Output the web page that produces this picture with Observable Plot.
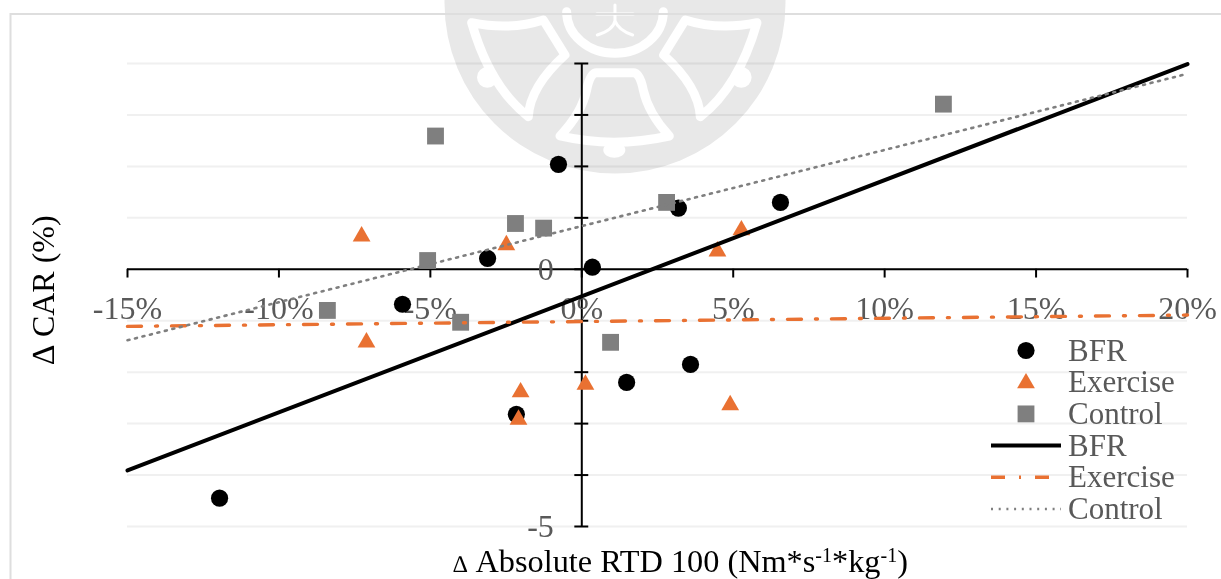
<!DOCTYPE html>
<html>
<head>
<meta charset="utf-8">
<script src="https://cdn.jsdelivr.net/npm/d3@7"></script>
<script src="https://cdn.jsdelivr.net/npm/@observablehq/plot@0.6"></script>
<style>
  html, body { margin: 0; padding: 0; background: #fff; }
  #wrap { position: relative; width: 1221px; height: 579px; overflow: hidden; font-family: "Liberation Serif", serif; }
  #wrap > svg { position: absolute; left: 0; top: 0; }
  #seal { mix-blend-mode: multiply; pointer-events: none; }
  #xtitle { position: absolute; left: 453px; top: 544px; white-space: nowrap; font-size: 32.3px; line-height: 35px; color: #000; }
  #xtitle sup { font-size: 20px; line-height: 0; vertical-align: 10px; }
  #xtitle .d { font-size: 24px; margin-right: 1.5px; }
</style>
</head>
<body>
<div id="wrap">
  <svg id="seal" width="1221" height="579" viewBox="0 0 1221 579">
    <defs>
      <mask id="holes" maskUnits="userSpaceOnUse" x="0" y="0" width="1221" height="579">
        <rect width="1221" height="579" fill="#fff"/>
        <g transform="translate(400,0) scale(0.3333)" fill="none" stroke="#000" stroke-width="27" stroke-linejoin="round" stroke-linecap="round">
          <path d="M590,218 L700,218 Q720,218 730,270 Q745,340 808,408 Q640,445 480,408 Q545,340 560,270 Q570,218 590,218 Z"/>
          <path d="M215,68 Q330,92 430,60 L495,165 Q390,260 385,350 Q270,260 215,68 Z"/>
          <path d="M1071,68 Q956,92 856,60 L791,165 Q896,260 901,350 Q1016,260 1071,68 Z"/>
          <path d="M500,35 A145,125 0 0 0 790,35"/>
          <path stroke-width="9" d="M590,42 H700 M645,15 V62 Q640,90 592,105 M645,62 Q655,90 698,105"/>
          <circle cx="262" cy="232" r="22" fill="#000" stroke-width="18"/>
          <circle cx="1024" cy="232" r="22" fill="#000" stroke-width="18"/>
          <ellipse cx="643" cy="450" rx="28" ry="18" fill="#000" stroke-width="10"/>
        </g>
      </mask>
    </defs>
    <circle cx="615" cy="3" r="170.5" fill="#e8e8e8" mask="url(#holes)"/>
    <path d="M10.5,579 V14 H1221" fill="none" stroke="#dedede" stroke-width="2"/>
  </svg>
  <div id="xtitle"><span class="d">∆</span> Absolute RTD 100 (Nm*s<sup>-1</sup>*kg<sup>-1</sup>)</div>
</div>
<script>
const bfrX = [-11.96, -5.92, -3.11, -2.16, -0.77, 0.35, 1.48, 3.19, 3.59, 6.56];
const bfrY = [-4.45, -0.68, 0.21, -2.82, 2.04, 0.04, -2.20, 1.19, -1.85, 1.30];
const exerciseX = [-7.27, -7.11, -2.49, -2.02, -2.09, 0.12, 4.48, 5.27, 4.90];
const exerciseY = [0.64, -1.42, 0.47, -2.39, -2.92, -2.24, 0.35, 0.76, -2.64];
const controlX = [-8.40, -5.09, -4.83, -4.00, -2.19, -1.26, 0.95, 2.80, 11.94];
const controlY = [-0.80, 0.17, 2.59, -1.03, 0.89, 0.80, -1.42, 1.30, 3.21];
const trendX = [-15, 20];
const bfrTrend = [-3.91, 3.99];
const exerciseTrend = [-1.11, -0.89];
const controlTrend = [-1.38, 3.80];
const xTicks = [-15, -10, -5, 0, 5, 10, 15, 20];
const yTicks = [-5, -4, -3, -2, -1, 0, 1, 2, 3, 4];
const yLabels = [-5, 0];
const legendNames = ["BFR", "Exercise", "Control"];

const ORANGE = "#e97132", GREY = "#7f7f7f", TEXT = "#595959";
const EX_DASH = "14,14,2,14", CT_DASH = "2,5.7";
const pts = (xs, ys) => xs.map((x, i) => ({x, y: ys[i]}));
const line = (ys) => trendX.map((x, i) => ({x, y: ys[i]}));

const chart = Plot.plot({
  width: 1221, height: 579,
  marginLeft: 127, marginRight: 34, marginTop: 63, marginBottom: 53,
  style: {background: "transparent", fontFamily: '"Liberation Serif", serif', overflow: "visible"},
  x: {domain: [-15, 20], axis: null},
  y: {domain: [-5, 4], axis: null},
  marks: [
    Plot.gridY(yTicks, {stroke: "#f0f0f0", strokeOpacity: 1, strokeWidth: 2}),
    Plot.ruleY([0], {x1: -15, x2: 20, stroke: "#000", strokeWidth: 2}),
    Plot.ruleX([0], {y1: -5, y2: 4, stroke: "#000", strokeWidth: 2}),
    Plot.ruleX(xTicks, {y1: 0, y2: -0.17, stroke: "#000", strokeWidth: 2}),
    Plot.ruleY(yTicks, {x1: -0.23, x2: 0.23, stroke: "#000", strokeWidth: 2}),
    Plot.text(xTicks, {x: d => d, y: 0, text: d => d + "%", dy: 39, fontSize: 32, fill: TEXT, textAnchor: "middle"}),
    Plot.text(yLabels, {x: 0, y: d => d, text: d => String(d), dx: -28, fontSize: 32, fill: TEXT, textAnchor: "end"}),
    Plot.dot(pts(bfrX, bfrY), {x: "x", y: "y", symbol: "circle", r: 8.6, fill: "#000"}),
    Plot.dot(pts(exerciseX, exerciseY), {x: "x", y: "y", symbol: "triangle", r: 6.6, fill: ORANGE}),
    Plot.dot(pts(controlX, controlY), {x: "x", y: "y", symbol: "square", r: 9.5, fill: GREY}),
    Plot.line(line(bfrTrend), {x: "x", y: "y", stroke: "#000", strokeWidth: 4}),
    Plot.line(line(exerciseTrend), {x: "x", y: "y", stroke: ORANGE, strokeWidth: 3.4, strokeDasharray: EX_DASH}),
    Plot.line(line(controlTrend), {x: "x", y: "y", stroke: GREY, strokeWidth: 2.6, strokeDasharray: CT_DASH})
  ]
});
const wrap = document.getElementById("wrap");
wrap.insertBefore(chart, wrap.firstChild);

// y-axis title and legend as real text on a top layer
const layer = d3.select(wrap).append("svg").attr("width", 1221).attr("height", 579)
  .attr("font-family", '"Liberation Serif", serif');
layer.append("text").attr("transform", "translate(54,290) rotate(-90)")
  .attr("text-anchor", "middle").attr("font-size", 32).attr("fill", "#000").text("∆ CAR (%)");

const rows = [350.5, 382.2, 413.9, 445.6, 477.3, 509];
const labels = [...legendNames, ...legendNames];
labels.forEach((t, i) => layer.append("text").attr("x", 1068).attr("y", rows[i] + 10)
  .attr("font-size", 31).attr("fill", TEXT).text(t));
layer.append("path").attr("d", d3.symbol(d3.symbolCircle, Math.PI * 8.6 * 8.6)()).attr("transform", `translate(1026,${rows[0]})`).attr("fill", "#000");
layer.append("path").attr("d", d3.symbol(d3.symbolTriangle, Math.PI * 6.6 * 6.6)()).attr("transform", `translate(1026,${rows[1]+1})`).attr("fill", ORANGE);
layer.append("path").attr("d", d3.symbol(d3.symbolSquare, Math.PI * 9.5 * 9.5)()).attr("transform", `translate(1026,${rows[2]})`).attr("fill", GREY);
const lg = (y, stroke, w, dash) => layer.append("line").attr("x1", 991).attr("x2", 1061).attr("y1", y).attr("y2", y)
  .attr("stroke", stroke).attr("stroke-width", w).attr("stroke-dasharray", dash || null);
lg(rows[3], "#000", 4);
lg(rows[4], ORANGE, 3.4, EX_DASH);
lg(rows[5], GREY, 2.6, CT_DASH);
</script>
</body>
</html>
